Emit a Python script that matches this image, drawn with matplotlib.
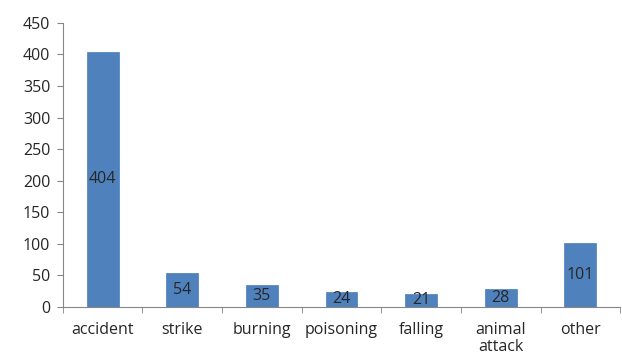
import numpy as np
import matplotlib.pyplot as plt

categories = ["accident", "strike", "burning", "poisoning", "falling", "animal\nattack", "other"]
values = [404, 54, 35, 24, 21, 28, 101]

plt.rcParams["font.family"] = ["Open Sans", "DejaVu Sans"]

fig = plt.figure(figsize=(6.22, 3.58), dpi=100)
ax = fig.add_axes([0.101, 0.1425, 0.896, 0.7935])

x = np.arange(len(categories))
bars = ax.bar(x, values, width=0.4, color="#4F81BD", edgecolor="#4A7EBB", linewidth=0.5)
ax.bar_label(bars, labels=[str(v) for v in values], label_type="center", fontsize=11.5, color="#262626")

ax.set_xlim(-0.5, len(categories) - 0.5)
ax.set_ylim(0, 450)
ax.set_yticks(range(0, 451, 50))
ax.tick_params(axis="y", labelsize=11.5, length=4, pad=5, color="#868686", labelcolor="#262626")

ax.set_xticks(x)
ax.set_xticklabels(categories, fontsize=11.5, color="#262626", linespacing=1.1)
ax.tick_params(axis="x", which="major", length=0, pad=11)
ax.set_xticks(np.arange(-0.5, len(categories), 1.0), minor=True)
ax.tick_params(axis="x", which="minor", length=4, color="#868686")

for s in ["top", "right"]:
    ax.spines[s].set_visible(False)
for s in ["left", "bottom"]:
    ax.spines[s].set_color("#868686")
    ax.spines[s].set_linewidth(0.8)

fig.savefig("out.png", dpi=100)
